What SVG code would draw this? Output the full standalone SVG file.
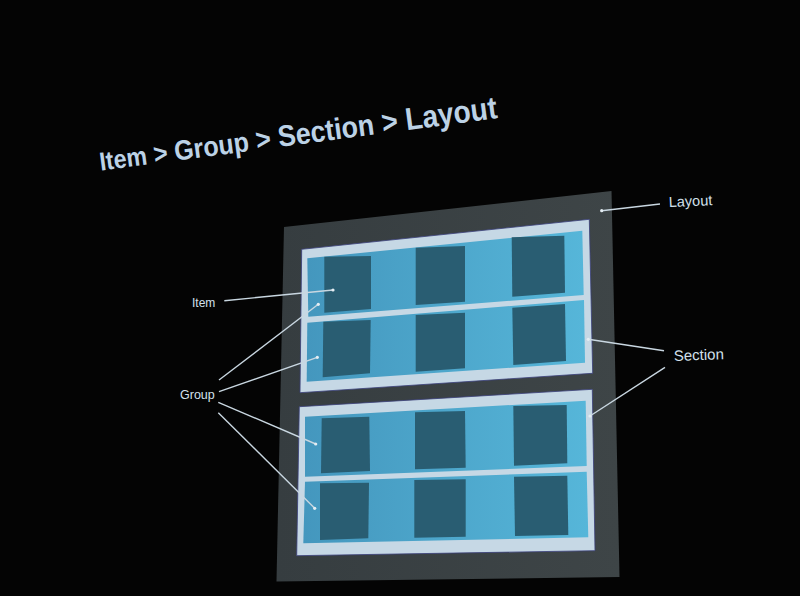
<svg xmlns="http://www.w3.org/2000/svg" width="800" height="596" viewBox="0 0 800 596">
<defs>
<linearGradient id="gb" x1="0" y1="0" x2="1" y2="0">
<stop offset="0" stop-color="#4497be"/>
<stop offset="1" stop-color="#56b6d9"/>
</linearGradient>
<linearGradient id="lg" x1="0" y1="0" x2="1" y2="0">
<stop offset="0" stop-color="#363d40"/>
<stop offset="1" stop-color="#3e4547"/>
</linearGradient>
</defs>
<style>
.layout{fill:url(#lg)}
.section{fill:#c6d8e5;stroke:#3a3f7a;stroke-width:0.8}
.group{fill:url(#gb)}
.item{fill:#295d72}
.conn{stroke:#c9d7e1;stroke-width:1.4;fill:none}
.dot{fill:#e4edf3}
.lbl{font-family:"Liberation Sans",Arial,sans-serif;fill:#d3e0ec}
.title{font-family:"Liberation Sans",Arial,sans-serif;font-weight:bold;fill:#bcd2e6}
</style>
<rect width="800" height="596" fill="#040404"/>
<text class="title" x="100.7" y="170.7" transform="rotate(-7.55 100.7 170.7)" textLength="401" lengthAdjust="spacingAndGlyphs"><tspan font-size="26">Item</tspan><tspan font-size="27"> &gt; </tspan><tspan font-size="28">Group</tspan><tspan font-size="29"> &gt; </tspan><tspan font-size="30">Section</tspan><tspan font-size="31"> &gt; </tspan><tspan font-size="31.5">Layout</tspan></text>
<g id="layout">
<polygon class="layout" points="284,227 611.5,191 619.5,577 276.5,581.5"/>
</g>
<g id="section1">
<polygon class="section" points="301.7,249.3 589.3,219.3 592.7,373.3 300,392.7"/>
<g id="group1">
<polygon class="group" points="307.3,258.3 582.3,230.7 583.7,295 308.3,316.7"/>
<polygon id="item1" class="item" points="324.3,256.7 371,256 371,309 324.3,312.7"/>
<polygon id="item2" class="item" points="415.7,247.7 465,246 465,301.7 415.7,305"/>
<polygon id="item3" class="item" points="511.7,237.3 564.3,235.7 565,292.7 512.3,296.7"/>
</g>
<g id="group2">
<polygon class="group" points="307.3,322.7 584,300 585,362.7 306.7,381.7"/>
<polygon id="item4" class="item" points="323.3,321.7 370.7,320 370,373.3 322.7,377.3"/>
<polygon id="item5" class="item" points="415.7,315 465,312.7 465,368.3 415.7,371.7"/>
<polygon id="item6" class="item" points="512.3,307.7 565,304 566,361 513.3,365"/>
</g>
</g>
<g id="section2">
<polygon class="section" points="299.3,406.7 592.3,389.3 595,550.7 296.7,555.7"/>
<g id="group3">
<polygon class="group" points="305,416.7 585.7,400.7 586.7,466 305,476.7"/>
<polygon id="item7" class="item" points="321.7,418.3 369.3,416.7 370,471 321,473.3"/>
<polygon id="item8" class="item" points="415,412.3 465,411 465.7,467.7 415,469.3"/>
<polygon id="item9" class="item" points="513.3,406 566.7,405 567.3,463.3 514,465.7"/>
</g>
<g id="group4">
<polygon class="group" points="305,481.7 586.7,471.7 588.3,537.3 303.3,543.3"/>
<polygon id="item10" class="item" points="320,483.3 369,482.7 368.3,538.3 320,540"/>
<polygon id="item11" class="item" points="414.3,480 465.7,479.3 465.7,536.7 414.3,537.7"/>
<polygon id="item12" class="item" points="514,476.7 567.3,475.7 568.3,535 515,536"/>
</g>
</g>
<g id="connectors">
<line class="conn" x1="224.3" y1="300.7" x2="333" y2="290"/>
<line class="conn" x1="219" y1="380" x2="318.3" y2="304.3"/>
<line class="conn" x1="219" y1="391.7" x2="317.3" y2="357.3"/>
<line class="conn" x1="218.3" y1="402.3" x2="315.7" y2="444"/>
<line class="conn" x1="218.3" y1="412.7" x2="314.7" y2="508.3"/>
<line class="conn" x1="601.7" y1="210.7" x2="660" y2="204"/>
<line class="conn" x1="588.3" y1="339.3" x2="664" y2="350.7"/>
<line class="conn" x1="590" y1="416" x2="665" y2="367.3"/>
<circle class="dot" cx="333" cy="290" r="1.6"/>
<circle class="dot" cx="318.3" cy="304.3" r="1.6"/>
<circle class="dot" cx="317.3" cy="357.3" r="1.6"/>
<circle class="dot" cx="315.7" cy="444" r="1.6"/>
<circle class="dot" cx="314.7" cy="508.3" r="1.6"/>
<circle class="dot" cx="601.7" cy="210.7" r="1.6"/>
<circle class="dot" cx="588.3" cy="339.3" r="1.6"/>
<circle class="dot" cx="590" cy="416" r="1.6"/>
</g>
<g id="label-item"><text class="lbl" x="192" y="306.5" font-size="12">Item</text></g>
<g id="label-group"><text class="lbl" x="180" y="399" font-size="12.5">Group</text></g>
<g id="label-layout"><text class="lbl" x="669" y="207" font-size="14.5" transform="rotate(-2.5 669 207)">Layout</text></g>
<g id="label-section"><text class="lbl" x="674" y="361" font-size="15" transform="rotate(-2 674 361)">Section</text></g>
</svg>
